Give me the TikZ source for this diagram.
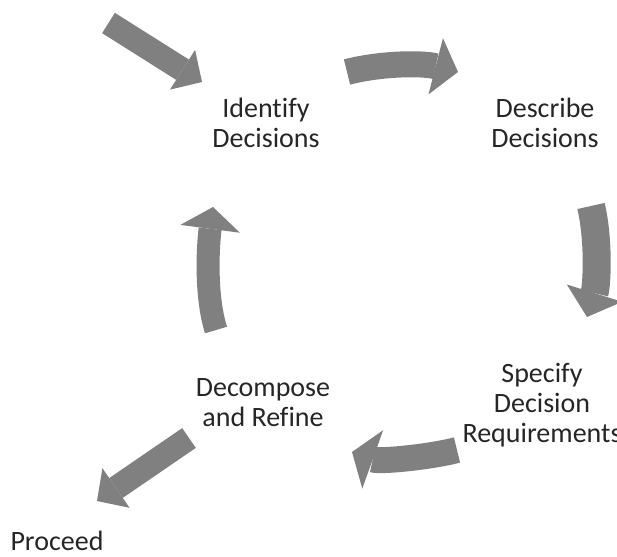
\documentclass[tikz,border=0pt]{standalone}
\usepackage{fontspec}
\setmainfont{Carlito}[Ligatures=NoCommon]
\usetikzlibrary{arrows.meta}
\definecolor{arrowgray}{RGB}{128,128,128}
\definecolor{labelink}{RGB}{38,38,38}
\tikzset{
  lbl/.style={font=\fontsize{28}{30}\selectfont, text=labelink, align=center, inner sep=0pt, anchor=base},
  blockarrow/.style n args={3}{draw=arrowgray, line width=#1pt,
    -{Triangle[length=#3pt, width=#2pt, line width=0pt, fill=arrowgray]}},
}
\begin{document}
\begin{tikzpicture}[x=1pt, y=-1pt]
  \useasboundingbox (0,0) rectangle (617,556);

  % stage labels (placed by the baseline of their last line)
  \node[lbl] (identify)  at (266,147) {Identify\\Decisions};
  \node[lbl] (describe)  at (545,147) {Describe\\Decisions};
  \node[lbl] (specify)   at (542,442) {Specify\\Decision\\Requirements};
  \node[lbl] (decompose) at (263,426) {Decompose\\and Refine};
  \node[lbl] (proceed)   at (57,550)  {Proceed};

  % arrow end points
  \coordinate (inS)  at (108.5,23);  \coordinate (inE)  at (202,82);
  \coordinate (c1S)  at (347,72);    \coordinate (c1E)  at (458,72);
  \coordinate (c2S)  at (591,206);   \coordinate (c2E)  at (587,317);
  \coordinate (c3S)  at (457,450);   \coordinate (c3E)  at (352,452);
  \coordinate (c4S)  at (216,330);   \coordinate (c4E)  at (213,207);
  \coordinate (outS) at (189,438);   \coordinate (outE) at (97,501);

  % entry arrow
  \draw[blockarrow={24}{47}{23}] (inS) -- (inE);
  % cycle arrows
  \draw[blockarrow={26}{58}{23}] (c1S) .. controls (382,63) and (423,63) .. (c1E);
  \draw[blockarrow={28}{58}{25}] (c2S) .. controls (599,240) and (597,285) .. (c2E);
  \draw[blockarrow={26}{62}{22}] (c3S) .. controls (430,457) and (380,462) .. (c3E);
  \draw[blockarrow={23}{60}{22}] (c4S) .. controls (205,295) and (208,245) .. (c4E);
  % exit arrow
  \draw[blockarrow={24}{48}{23}] (outS) -- (outE);
\end{tikzpicture}
\end{document}
